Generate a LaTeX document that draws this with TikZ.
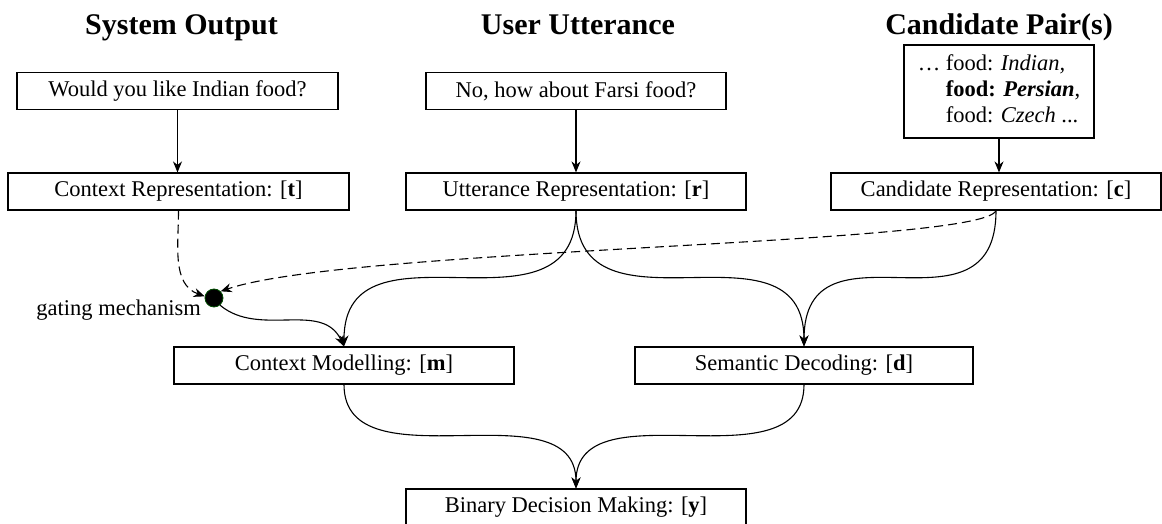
\documentclass[tikz,border=0pt]{standalone}
\usepackage{fontspec}
\setmainfont{Liberation Serif}
\usetikzlibrary{arrows.meta,calc}
\begin{document}
\begin{tikzpicture}[x=1pt,y=1pt,
  box/.style={draw, line width=1.1pt, minimum height=37pt, inner sep=0pt, font=\fontsize{22.5}{26}\selectfont},
  head/.style={anchor=base, font=\fontsize{30}{34}\selectfont\bfseries},
  arr/.style={line width=1.1pt, -{Stealth[length=11pt,width=9pt,inset=3.5pt]}},
  dsh/.style={arr, dash pattern=on 9pt off 5pt},
  gate/.style={circle, fill=black, draw=green!30!black, line width=0.8pt, minimum size=18pt, inner sep=0pt},
  lbl/.style={font=\fontsize{22.5}{26}\selectfont, inner sep=0pt}]
\clip (0,0) rectangle (1162,524);
\useasboundingbox (0,0) rectangle (1162,524);
\node[head] (hs) at (181.5,489) {System Output};
\node[head] (hu) at (578,489) {User Utterance};
\node[head] (hc) at (999,489) {Candidate Pair(s)};
\node[box, minimum width=321pt] (so) at (177.5,433) {Would you like Indian food?};
\node[box, minimum width=300pt] (uu) at (576,433) {No, how about Farsi food?};
\node[box, minimum width=190pt, minimum height=93pt] (cp) at (999,432.5) {\begin{tabular}{@{}r@{ }l@{}}…& food: \textit{Indian,}\\ & \textbf{food: \textit{Persian}},\\ & food: \textit{Czech} ...\end{tabular}};
\node[box, minimum width=341pt] (ct) at (178.5,332.5) {Context Representation: [\textbf{t}]};
\node[box, minimum width=340pt] (ur) at (576,332.5) {Utterance Representation: [\textbf{r}]};
\node[box, minimum width=330pt] (cr) at (996,332.5) {Candidate Representation: [\textbf{c}]};
\node[box, minimum width=340pt] (cm) at (344,158.5) {Context Modelling: [\textbf{m}]};
\node[box, minimum width=338pt] (sd) at (804,158.5) {Semantic Decoding: [\textbf{d}]};
\node[box, minimum width=340pt] (bd) at (576,16.5) {Binary Decision Making: [\textbf{y}]};
\node[gate] (gt) at (214,226) {};
\node[lbl, anchor=east] (gl) at (201,214) {gating mechanism};

\draw[arr] (so.south) -- (so.south |- ct.north);
\draw[arr] (uu.south) -- (ur.north);
\draw[arr] (cp.south) -- (cp.south |- cr.north);
\draw[arr] (ur.south) .. controls (ur.south |- cm.north) and (cm.north |- ur.south) .. (cm.north);
\draw[arr] (ur.south) .. controls (ur.south |- sd.north) and (sd.north |- ur.south) .. (sd.north);
\draw[arr] (cr.south) .. controls (cr.south |- sd.north) and (sd.north |- cr.south) .. (sd.north);
\draw[arr] (cm.south) .. controls (cm.south |- bd.north) and (bd.north |- cm.south) .. (bd.north);
\draw[arr] (sd.south) .. controls (sd.south |- bd.north) and (bd.north |- sd.south) .. (bd.north);
\draw[arr] (gt.-50) to[out=-40,in=115] (cm.north);
\draw[dsh] (ct.south) to[out=-90,in=160] (gt.170);
\draw[dsh] (cr.south) .. controls ($(cr.south)+(-13,-35)$) and ($(gt.45)+(128,44)$) .. (gt.45);
\end{tikzpicture}
\end{document}
